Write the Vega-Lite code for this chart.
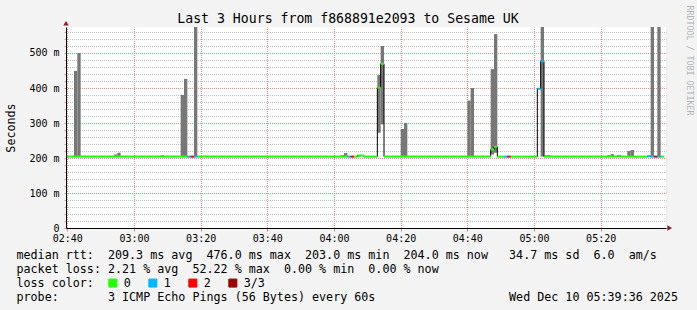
{
  "$schema": "https://vega.github.io/schema/vega-lite/v6.json",
  "width": 600,
  "height": 201,
  "autosize": {"type": "none"},
  "padding": {"left": 66, "top": 27, "right": 31, "bottom": 82},
  "background": "#f3f3f3",
  "title": {
    "text": "Last 3 Hours from f868891e2093 to Sesame UK",
    "font": "DejaVu Sans Mono", "fontSize": 13.2, "fontWeight": "normal", "color": "#000000",
    "anchor": "middle", "frame": "group", "dx": -18, "offset": -21
  },
  "config": {"view": {"fill": "#ffffff", "stroke": null}},
  "datasets": {
    "smoke": [
      {"t": 2, "e": 3, "lo": 204, "hi": 449},
      {"t": 3, "e": 4, "lo": 204, "hi": 500},
      {"t": 14, "e": 15, "lo": 204, "hi": 210},
      {"t": 15, "e": 16, "lo": 204, "hi": 215},
      {"t": 28, "e": 29, "lo": 204, "hi": 208},
      {"t": 34, "e": 35, "lo": 204, "hi": 380},
      {"t": 35, "e": 36, "lo": 204, "hi": 426},
      {"t": 38, "e": 39, "lo": 204, "hi": 610},
      {"t": 82, "e": 83, "lo": 204, "hi": 208},
      {"t": 83, "e": 84, "lo": 204, "hi": 214},
      {"t": 87, "e": 88, "lo": 204, "hi": 209},
      {"t": 93, "e": 94, "lo": 272, "hi": 437},
      {"t": 94, "e": 95, "lo": 296, "hi": 520},
      {"t": 100, "e": 101, "lo": 204, "hi": 283},
      {"t": 101, "e": 102, "lo": 204, "hi": 300},
      {"t": 120, "e": 121, "lo": 204, "hi": 364},
      {"t": 121, "e": 122, "lo": 204, "hi": 400},
      {"t": 127, "e": 128, "lo": 210, "hi": 454},
      {"t": 128, "e": 129, "lo": 215, "hi": 554},
      {"t": 142, "e": 143, "lo": 204, "hi": 610},
      {"t": 143, "e": 144, "lo": 204, "hi": 208},
      {"t": 144, "e": 145, "lo": 204, "hi": 208},
      {"t": 162, "e": 163, "lo": 204, "hi": 208},
      {"t": 163, "e": 164, "lo": 204, "hi": 211},
      {"t": 168, "e": 169, "lo": 204, "hi": 220},
      {"t": 169, "e": 170, "lo": 204, "hi": 223},
      {"t": 175, "e": 176, "lo": 204, "hi": 610},
      {"t": 177, "e": 178, "lo": 204, "hi": 610}
    ],
    "median": [
      {"t": 0, "e": 36, "med": 204, "loss": "0"},
      {"t": 36, "e": 37, "med": 204, "loss": "1"},
      {"t": 37, "e": 38, "med": 204, "loss": "2"},
      {"t": 38, "e": 39, "med": 204, "loss": "1"},
      {"t": 39, "e": 84, "med": 204, "loss": "0"},
      {"t": 84, "e": 85, "med": 204, "loss": "1"},
      {"t": 85, "e": 86, "med": 204, "loss": "2"},
      {"t": 86, "e": 87, "med": 204, "loss": "0"},
      {"t": 87, "e": 89, "med": 207, "loss": "0"},
      {"t": 89, "e": 93, "med": 204, "loss": "0"},
      {"t": 93, "e": 94, "med": 401, "loss": "0"},
      {"t": 94, "e": 95, "med": 469, "loss": "0"},
      {"t": 95, "e": 127, "med": 204, "loss": "0"},
      {"t": 127, "e": 128, "med": 224, "loss": "0"},
      {"t": 128, "e": 129, "med": 232, "loss": "0"},
      {"t": 129, "e": 131, "med": 204, "loss": "0"},
      {"t": 131, "e": 132, "med": 204, "loss": "1"},
      {"t": 132, "e": 133, "med": 204, "loss": "2"},
      {"t": 133, "e": 141, "med": 204, "loss": "0"},
      {"t": 141, "e": 142, "med": 398, "loss": "1"},
      {"t": 142, "e": 143, "med": 476, "loss": "1"},
      {"t": 143, "e": 165, "med": 204, "loss": "0"},
      {"t": 165, "e": 166, "med": 206, "loss": "0"},
      {"t": 166, "e": 174, "med": 204, "loss": "0"},
      {"t": 174, "e": 175, "med": 205, "loss": "1"},
      {"t": 175, "e": 176, "med": 204, "loss": "1"},
      {"t": 176, "e": 177, "med": 204, "loss": "2"},
      {"t": 177, "e": 178, "med": 204, "loss": "1"},
      {"t": 178, "e": 179, "med": 204, "loss": "0"},
      {"t": 179, "e": 179, "med": 204, "loss": "0"}
    ],
    "arrows": [
      {"ax": -0.4, "ay": 585, "shape": "triangle-up"},
      {"ax": 180.7, "ay": 0, "shape": "triangle-right"}
    ]
  },
  "layer": [
    {
      "data": {"name": "smoke"},
      "mark": {"type": "rect", "color": "#777777", "clip": true},
      "encoding": {
        "x": {
          "field": "t", "type": "quantitative",
          "scale": {"domain": [-0.4, 179.6], "nice": false, "zero": false},
          "axis": {
            "values": [0, 5, 10, 15, 20, 25, 30, 35, 40, 45, 50, 55, 60, 65, 70, 75, 80, 85, 90, 95, 100, 105, 110, 115, 120, 125, 130, 135, 140, 145, 150, 155, 160, 165, 170, 175],
            "labelExpr": "datum.value % 20 == 0 ? format(floor((160 + datum.value) / 60), '02d') + ':' + format((160 + datum.value) % 60, '02d') : ''",
            "labelFont": "DejaVu Sans Mono", "labelFontSize": 10, "labelColor": "#000000",
            "labelAngle": 0, "labelPadding": 2, "labelFlush": false, "labelOverlap": false, "labelBound": false,
            "tickSize": 3,
            "tickColor": {"condition": {"test": "datum.value % 20 == 0", "value": "#f08080"}, "value": "#b0b0b0"},
            "grid": true,
            "gridColor": {"condition": {"test": "datum.value % 20 == 0", "value": "#ee8a8a"}, "value": "#c0c0c0"},
            "gridDash": [1, 1], "gridDashOffset": 0.5,
            "domainColor": "#000000",
            "title": [
              "median rtt:\u00a0\u00a0209.3 ms avg\u00a0\u00a0476.0 ms max\u00a0\u00a0203.0 ms min\u00a0\u00a0204.0 ms now\u00a0\u00a0\u00a034.7 ms sd\u00a0\u00a06.0\u00a0\u00a0am/s",
              "packet loss: 2.21 % avg\u00a0\u00a052.22 % max\u00a0\u00a00.00 % min\u00a0\u00a00.00 % now",
              "loss color:",
              "probe:\u00a0\u00a0\u00a0\u00a0\u00a0\u00a0\u00a03 ICMP Echo Pings (56 Bytes) every 60s\u00a0\u00a0\u00a0\u00a0\u00a0\u00a0\u00a0\u00a0\u00a0\u00a0\u00a0\u00a0\u00a0\u00a0\u00a0\u00a0\u00a0\u00a0\u00a0Wed Dec 10 05:39:36 2025"
            ],
            "titleFont": "DejaVu Sans Mono", "titleFontSize": 11.7, "titleFontWeight": "normal", "titleColor": "#000000",
            "titleAlign": "left", "titleAnchor": "start", "titleX": -50, "titleY": 30.5,
            "titleBaseline": "alphabetic", "titleLineHeight": 14
          }
        },
        "x2": {"field": "e"},
        "y": {
          "field": "lo", "type": "quantitative",
          "scale": {"domain": [0, 574.2857], "nice": false, "zero": false},
          "axis": {
            "values": [0, 20, 40, 60, 80, 100, 120, 140, 160, 180, 200, 220, 240, 260, 280, 300, 320, 340, 360, 380, 400, 420, 440, 460, 480, 500, 520, 540, 560],
            "labelExpr": "datum.value % 100 == 0 ? (datum.value == 0 ? '0\u00a0\u00a0' : datum.value + ' m') : ''",
            "labelFont": "DejaVu Sans Mono", "labelFontSize": 10, "labelColor": "#000000",
            "labelPadding": 5, "labelOverlap": false, "labelBound": false, "labelFlush": false,
            "tickSize": 2,
            "tickColor": {"condition": {"test": "datum.value % 100 == 0", "value": "#f08080"}, "value": "#b0b0b0"},
            "grid": true,
            "gridColor": {"condition": {"test": "datum.value % 100 == 0", "value": "#ee8a8a"}, "value": "#c0c0c0"},
            "gridDash": [1, 1], "gridDashOffset": 0.5,
            "domainColor": "#000000",
            "title": "Seconds",
            "titleFont": "DejaVu Sans Mono", "titleFontSize": 11.7, "titleFontWeight": "normal", "titleColor": "#000000",
            "titleX": -56, "titleY": 100.5, "titleAngle": -90, "titleAlign": "center", "titleBaseline": "middle"
          }
        },
        "y2": {"field": "hi"}
      }
    },
    {
      "data": {"name": "median"},
      "mark": {"type": "line", "interpolate": "step-after", "color": "#000000", "strokeWidth": 1},
      "encoding": {
        "x": {"field": "t", "type": "quantitative", "scale": {"domain": [-0.4, 179.6], "nice": false, "zero": false}},
        "y": {
          "field": "med", "type": "quantitative",
          "scale": {"domain": [0, 574.2857], "nice": false, "zero": false},
          "axis": {
            "orient": "right", "title": "RRDTOOL / TOBI OETIKER",
            "labels": false, "ticks": false, "domain": false, "grid": false,
            "titleAngle": 90, "titleX": 22, "titleY": -22, "titleAlign": "left", "titleBaseline": "middle",
            "titleColor": "#b4b4b4", "titleFont": "DejaVu Sans Mono", "titleFontSize": 8.3, "titleFontWeight": "normal"
          }
        }
      }
    },
    {
      "data": {"name": "median"},
      "mark": {"type": "rule", "strokeWidth": 2},
      "encoding": {
        "x": {"field": "t", "type": "quantitative", "scale": {"domain": [-0.4, 179.6], "nice": false, "zero": false}},
        "x2": {"field": "e"},
        "y": {"field": "med", "type": "quantitative", "scale": {"domain": [0, 574.2857], "nice": false, "zero": false}, "axis": null},
        "color": {
          "field": "loss", "type": "nominal",
          "scale": {"domain": ["0", "1", "2", "3/3"], "range": ["#22ff00", "#00b8ff", "#ff0000", "#990000"]},
          "legend": {
            "orient": "none", "legendX": 41, "legendY": 250, "direction": "horizontal", "title": null,
            "symbolType": "square", "symbolSize": 64, "symbolStrokeWidth": 1,
            "labelFont": "DejaVu Sans Mono", "labelFontSize": 11.7, "labelColor": "#000000",
            "labelOffset": 5, "columnPadding": 15, "padding": 0,
            "encode": {"symbols": {"update": {"fill": {"scale": "color", "field": "value"}, "stroke": {"value": "#1a1a1a"}, "opacity": {"value": 1}}}}
          }
        }
      }
    },
    {
      "data": {"name": "arrows"},
      "mark": {"type": "point", "filled": true, "color": "#8b1a1a", "size": 30, "opacity": 1},
      "encoding": {
        "x": {"field": "ax", "type": "quantitative", "scale": {"domain": [-0.4, 179.6], "nice": false, "zero": false}},
        "y": {"field": "ay", "type": "quantitative", "scale": {"domain": [0, 574.2857], "nice": false, "zero": false}, "axis": null},
        "shape": {"field": "shape", "type": "nominal", "scale": null}
      }
    }
  ],
  "resolve": {"axis": {"y": "independent"}}
}
